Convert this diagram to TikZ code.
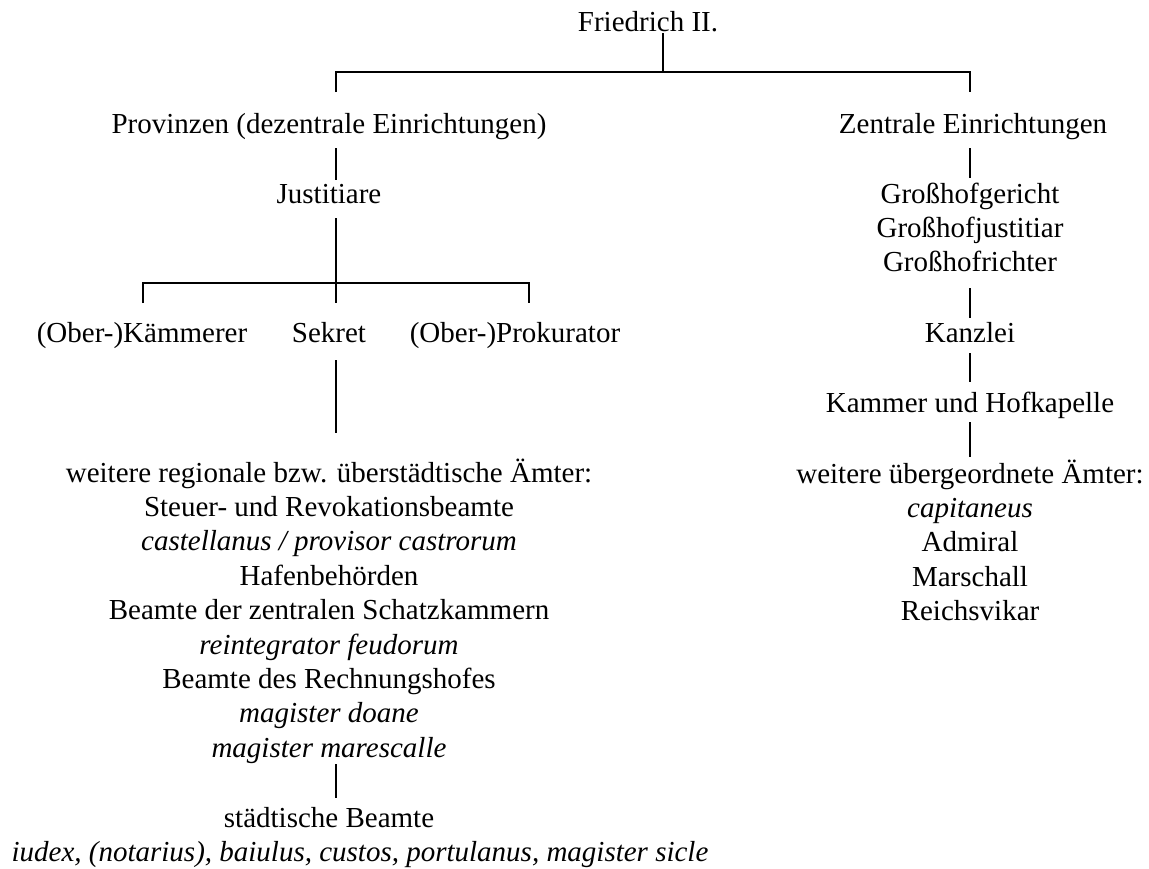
\documentclass[tikz,border=0pt]{standalone}
\usepackage{fontspec}
\setmainfont{Liberation Serif}
\usetikzlibrary{positioning}
\begin{document}
\begin{tikzpicture}[x=1pt, y=-1pt, line width=1.3pt,
    amt/.style={anchor=base, inner sep=0pt, align=center, font=\fontsize{29}{34.4}\selectfont}]
    \useasboundingbox (0,0) rectangle (1149,868);

    % Herrscher
    \node[amt] (fried) at (648,31) {Friedrich II.};

    % Provinzen (base = letzte Zeile)
    \node[amt] (prov) at (329,133) {Provinzen (dezentrale Einrichtungen)};
    \node[amt] (just) at (329,203) {Justitiare};
    \node[amt] (kaem) at (142,342) {(Ober-)Kämmerer};
    \node[amt] (sekr) at (329,342) {Sekret};
    \node[amt] (prok) at (515,342) {(Ober-)Prokurator};
    \node[amt] (regio) at (329,757.2) {weitere regionale bzw. überstädtische Ämter:\\
        Steuer- und Revokationsbeamte\\
        \itshape castellanus / provisor castrorum\\
        Hafenbehörden\\
        Beamte der zentralen Schatzkammern\\
        \itshape reintegrator feudorum\\
        Beamte des Rechnungshofes\\
        \itshape magister doane\\
        \itshape magister marescalle};
    \node[amt] (stadt) at (329,827) {städtische Beamte};
    \node[amt, font=\fontsize{29}{34.4}\selectfont\itshape] (iudex) at (360,861)
        {iudex, (notarius), baiulus, custos, portulanus, magister sicle};

    % Zentrale
    \node[amt] (zent) at (973,133) {Zentrale Einrichtungen};
    \node[amt] (hof) at (970,271.8) {Großhofgericht\\Großhofjustitiar\\Großhofrichter};
    \node[amt] (kanz) at (970,342) {Kanzlei};
    \node[amt] (kamm) at (970,412) {Kammer und Hofkapelle};
    \node[amt] (ueber) at (970,620.6) {weitere übergeordnete Ämter:\\
        \itshape capitaneus\\Admiral\\Marschall\\Reichsvikar};

    % Verbindungen
    \coordinate (f1) at (663,33);
    \coordinate (f2) at (663,72);
    \coordinate (bl) at (336,72);
    \coordinate (br) at (970,72);
    \draw (f1) -- (f2);
    \draw (bl) ++(0,20) -- (bl) -- (br) -- ++(0,20);

    \coordinate (p1) at (336,148);
    \coordinate (p2) at (336,180);
    \draw (p1) -- (p2);
    \coordinate (j1) at (336,218);
    \coordinate (j2) at (336,283);
    \coordinate (jl) at (143,283);
    \coordinate (jr) at (529,283);
    \draw (j1) -- (j2) -- ++(0,20);
    \draw (jl) ++(0,20) -- (jl) -- (jr) -- ++(0,20);
    \coordinate (s1) at (336,360);
    \coordinate (s2) at (336,433);
    \draw (s1) -- (s2);
    \coordinate (m1) at (336,764);
    \coordinate (m2) at (336,798);
    \draw (m1) -- (m2);

    \coordinate (z1) at (970,148);
    \coordinate (z2) at (970,178);
    \draw (z1) -- (z2);
    \coordinate (g1) at (970,288);
    \coordinate (g2) at (970,318);
    \draw (g1) -- (g2);
    \coordinate (k1) at (970,353);
    \coordinate (k2) at (970,382);
    \draw (k1) -- (k2);
    \coordinate (h1) at (970,422);
    \coordinate (h2) at (970,457);
    \draw (h1) -- (h2);
\end{tikzpicture}
\end{document}
